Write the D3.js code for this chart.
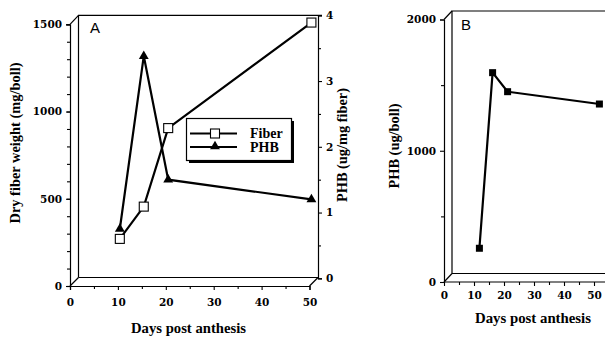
<!DOCTYPE html>
<html><head><meta charset="utf-8">
<script src="https://cdn.jsdelivr.net/npm/d3@7"></script>
<style>
html,body{margin:0;padding:0;background:#fff;}
svg{display:block;}
.tk text{font-family:"DejaVu Serif",serif;font-weight:bold;font-size:10.5px;fill:#000;}
.ttl{font-family:"Liberation Serif",serif;font-weight:bold;font-size:14px;fill:#000;}
.lgt{font-family:"Liberation Serif",serif;font-weight:bold;font-size:14px;fill:#000;}
.pl{font-family:"Liberation Sans",Arial,sans-serif;font-size:15px;fill:#000;}
</style></head>
<body>
<script>
// ---- data ----
const daysA = [10.4, 15.4, 20.5, 50.4];
const fiberA = [270, 455, 905, 1510];
const phbA = [0.75, 3.38, 1.50, 1.20];
const daysB = [11.8, 16.2, 21.2, 51.8];
const phbB = [257, 1595, 1450, 1356];
const xTicks = [0, 10, 20, 30, 40, 50];
const yTicksA = [0, 500, 1000, 1500];
const y2TicksA = [0, 1, 2, 3, 4];
const yTicksB = [0, 1000, 2000];
const legendLabels = ["Fiber", "PHB"];

const W = 605, H = 337;
const svg = d3.select("body").append("svg").attr("width", W).attr("height", H);

function axisLine(g, pts, w) {
  g.append("path").attr("d", d3.line()(pts)).attr("fill", "none")
    .attr("stroke", "#000").attr("stroke-width", w || 1.2);
}

// ================= Panel A =================
const xA = d3.scaleLinear().domain([0, 50]).range([70, 309.5]);
const yA = d3.scaleLinear().domain([0, 1500]).range([286, 24.3]);
const y2A = d3.scaleLinear().domain([0, 4]).range([278.3, 15.3]);
const offA = [8.5, -8.5];
const gA = svg.append("g");

const bx0 = xA(0) + offA[0], by0 = yA(0) + offA[1];
const bxR = xA(50) + offA[0];
axisLine(gA, [[bx0, by0], [bx0, y2A(4)], [bxR + 4, y2A(4)]]);
axisLine(gA, [[bx0, by0], [bxR, by0]]);
axisLine(gA, [[xA(0), yA(0)], [bx0, by0]]);
axisLine(gA, [[xA(0), yA(1500)], [bx0, y2A(4)]]);
axisLine(gA, [[xA(50), yA(0)], [bxR, by0]]);

gA.append("g").attr("class", "tk").attr("transform", `translate(${xA(0)},0)`)
  .call(d3.axisLeft(yA).tickValues(yTicksA).tickSize(4).tickPadding(4).tickFormat(d3.format("d")));
gA.append("g").attr("transform", `translate(${xA(0)},0)`)
  .call(d3.axisLeft(yA).tickValues(d3.range(0, 1501, 100)).tickSize(3).tickFormat(""))
  .call(g => g.select(".domain").remove());
gA.append("g").attr("class", "tk").attr("transform", `translate(0,${yA(0)})`)
  .call(d3.axisBottom(xA).tickValues(xTicks).tickSize(4).tickPadding(9).tickFormat(d3.format("d")));
gA.append("g").attr("transform", `translate(0,${yA(0)})`)
  .call(d3.axisBottom(xA).tickValues(d3.range(5, 50, 10)).tickSize(3).tickFormat(""))
  .call(g => g.select(".domain").remove());
gA.append("g").attr("class", "tk").attr("transform", `translate(${bxR},0)`)
  .call(d3.axisRight(y2A).tickValues(y2TicksA).tickSize(4).tickPadding(4).tickFormat(d3.format("d")));
gA.append("g").attr("transform", `translate(${bxR},0)`)
  .call(d3.axisRight(y2A).tickValues(d3.range(0.5, 4, 1)).tickSize(3).tickFormat(""))
  .call(g => g.select(".domain").remove());

const fiberPts = daysA.map((d, i) => [xA(d), yA(fiberA[i])]);
const phbPts = daysA.map((d, i) => [xA(d), y2A(phbA[i])]);
gA.append("path").attr("d", d3.line()(phbPts)).attr("fill", "none").attr("stroke", "#000").attr("stroke-width", 2.2);
gA.append("path").attr("d", d3.line()(fiberPts)).attr("fill", "none").attr("stroke", "#000").attr("stroke-width", 2.2);
const triSym = d3.symbol().type(d3.symbolTriangle).size(42);
gA.selectAll(".tri").data(phbPts).join("path")
  .attr("transform", d => `translate(${d[0]},${d[1]})`).attr("d", triSym()).attr("fill", "#000");
gA.selectAll(".sq").data(fiberPts).join("rect")
  .attr("x", d => d[0] - 4.5).attr("y", d => d[1] - 4.5).attr("width", 9).attr("height", 9)
  .attr("fill", "#fff").attr("stroke", "#000").attr("stroke-width", 1.1);

// legend
const lg = gA.append("g");
lg.append("rect").attr("x", 189).attr("y", 121).attr("width", 105).attr("height", 42).attr("fill", "#000");
lg.append("rect").attr("x", 186.5).attr("y", 118.5).attr("width", 105).attr("height", 42)
  .attr("fill", "#fff").attr("stroke", "#000").attr("stroke-width", 1.2);
[133.5, 147].forEach((yy, i) => {
  lg.append("line").attr("x1", 190).attr("x2", 237).attr("y1", yy).attr("y2", yy)
    .attr("stroke", "#000").attr("stroke-width", 2);
  if (i === 0) lg.append("rect").attr("x", 210.5).attr("y", yy - 4.5).attr("width", 9).attr("height", 9)
    .attr("fill", "#fff").attr("stroke", "#000").attr("stroke-width", 1.1);
  else lg.append("path").attr("transform", `translate(215,${yy - 0.5})`).attr("d", triSym()).attr("fill", "#000");
  lg.append("text").attr("class", "lgt").attr("x", 250).attr("y", yy + 4.5).text(legendLabels[i]);
});

gA.append("text").attr("class", "pl").attr("x", 90).attr("y", 33).text("A");
gA.append("text").attr("class", "ttl").attr("x", 188.5).attr("y", 333).attr("text-anchor", "middle")
  .attr("textLength", 115).attr("lengthAdjust", "spacingAndGlyphs").text("Days post anthesis");
gA.append("text").attr("class", "ttl").attr("transform", "translate(20,143) rotate(-90)").attr("text-anchor", "middle")
  .attr("textLength", 161).attr("lengthAdjust", "spacingAndGlyphs").text("Dry fiber weight (mg/boll)");
gA.append("text").attr("class", "ttl").attr("transform", "translate(347,145) rotate(-90)").attr("text-anchor", "middle")
  .attr("textLength", 114).attr("lengthAdjust", "spacingAndGlyphs").text("PHB (ug/mg fiber)");

// ================= Panel B =================
const xB = d3.scaleLinear().domain([0, 50]).range([444, 594]);
const yB = d3.scaleLinear().domain([0, 2000]).range([282, 19.5]);
const offB = [8, -8.5];
const gB = svg.append("g");
const cx0 = xB(0) + offB[0], cy0 = yB(0) + offB[1], cyT = yB(2000) + offB[1];
axisLine(gB, [[cx0, cy0], [cx0, cyT], [W + 5, cyT]]);
axisLine(gB, [[cx0, cy0], [W + 5, cy0]]);
axisLine(gB, [[xB(0), yB(0)], [cx0, cy0]]);
axisLine(gB, [[xB(0), yB(2000)], [cx0, cyT]]);
gB.append("g").attr("class", "tk").attr("transform", `translate(${xB(0)},0)`)
  .call(d3.axisLeft(yB).tickValues(yTicksB).tickSize(4).tickPadding(4).tickFormat(d3.format("d")));
gB.append("g").attr("transform", `translate(${xB(0)},0)`)
  .call(d3.axisLeft(yB).tickValues([500, 1500]).tickSize(3).tickFormat(""))
  .call(g => g.select(".domain").remove());
gB.append("g").attr("class", "tk").attr("transform", `translate(0,${yB(0)})`)
  .call(d3.axisBottom(xB).tickValues(xTicks).tickSize(4).tickPadding(6).tickFormat(d3.format("d")))
  .call(g => g.select(".domain").attr("d", `M${xB(0)},0H${W + 5}`));
gB.append("g").attr("transform", `translate(0,${yB(0)})`)
  .call(d3.axisBottom(xB).tickValues(d3.range(5, 56, 10)).tickSize(3).tickFormat(""))
  .call(g => g.select(".domain").remove());
svg.selectAll(".domain").attr("stroke-width", 1.2);
svg.selectAll(".tick line").attr("stroke-width", 1.1);

const bPts = daysB.map((d, i) => [xB(d), yB(phbB[i])]);
gB.append("path").attr("d", d3.line()(bPts)).attr("fill", "none").attr("stroke", "#000").attr("stroke-width", 2.2);
gB.selectAll(".bsq").data(bPts).join("rect")
  .attr("x", d => d[0] - 3.5).attr("y", d => d[1] - 3.5).attr("width", 7).attr("height", 7).attr("fill", "#000");

gB.append("text").attr("class", "pl").attr("x", 461).attr("y", 30).text("B");
gB.append("text").attr("class", "ttl").attr("x", 533).attr("y", 323).attr("text-anchor", "middle")
  .attr("textLength", 116).attr("lengthAdjust", "spacingAndGlyphs").text("Days post anthesis");
gB.append("text").attr("class", "ttl").attr("transform", "translate(399,146) rotate(-90)").attr("text-anchor", "middle")
  .attr("textLength", 85).attr("lengthAdjust", "spacingAndGlyphs").text("PHB (ug/boll)");
</script>
</body></html>
